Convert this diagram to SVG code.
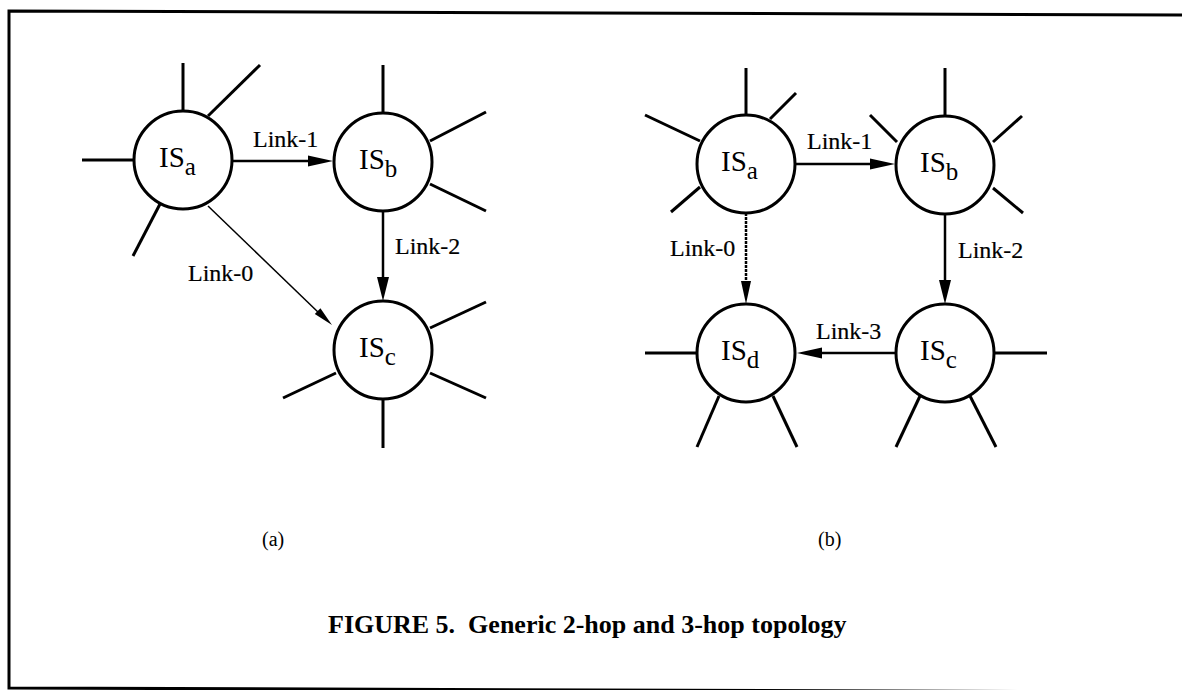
<svg xmlns="http://www.w3.org/2000/svg" width="1182" height="690" viewBox="0 0 1182 690">
<style>
.node circle{fill:#fff;stroke:#000;stroke-width:3}
.node line{stroke:#000;stroke-width:3}
.is{font-family:"Liberation Serif","Times New Roman",serif;font-size:29px;fill:#000}
.sub{font-size:25px}
.lbl{font-family:"Liberation Serif","Times New Roman",serif;font-size:24px;fill:#000;stroke:#000;stroke-width:0.2}
.paren{font-family:"Liberation Serif","Times New Roman",serif;font-size:20px;fill:#000}
.cap{font-family:"Liberation Serif","Times New Roman",serif;font-size:26px;font-weight:bold;fill:#000}
.edge{stroke:#000;stroke-width:2.5;fill:none}
.thin{stroke:#000;stroke-width:1.5;fill:none}
.dot{stroke:#000;stroke-width:2.5;stroke-dasharray:3 1;fill:none}
.head{fill:#000}
</style>
<rect width="1182" height="690" fill="#fff"/>
<polyline points="1182,15 9,11 9,688 1182,692" fill="none" stroke="#000" stroke-width="3"/>

<g id="connectors">
  <line class="edge" x1="232" y1="161" x2="310" y2="161"/>
  <polygon class="head" points="333,161 308,155.5 308,166.5"/>
  <line class="edge" x1="383" y1="211" x2="383" y2="280"/>
  <polygon class="head" points="383,301 377,277 389,277"/>
  <line class="thin" x1="208" y1="206" x2="320" y2="314"/>
  <polygon class="head" points="332,325 314.8,314 320.4,308.2"/>
  <line class="edge" x1="795" y1="164" x2="872" y2="164"/>
  <polygon class="head" points="895,164 870,158.5 870,169.5"/>
  <line class="edge" x1="945" y1="214" x2="945" y2="282"/>
  <polygon class="head" points="945,304 939,280 951,280"/>
  <line class="dot" x1="746" y1="213" x2="746" y2="285"/>
  <polygon class="head" points="746,304 741,281 751,281"/>
  <line class="edge" x1="896" y1="353" x2="820" y2="353"/>
  <polygon class="head" points="797,353 822,347.5 822,358.5"/>
  <text class="lbl" x="253" y="147">Link-1</text>
  <text class="lbl" x="395" y="254">Link-2</text>
  <text class="lbl" x="188" y="281">Link-0</text>
  <text class="lbl" x="807" y="149">Link-1</text>
  <text class="lbl" x="958" y="258">Link-2</text>
  <text class="lbl" x="670" y="256">Link-0</text>
  <text class="lbl" x="816" y="339">Link-3</text>
</g>

<g id="a-ISa" class="node">
  <line x1="183" y1="113" x2="183" y2="63"/>
  <line x1="208" y1="116" x2="260" y2="65"/>
  <line x1="134" y1="160" x2="82" y2="160"/>
  <line x1="160" y1="204" x2="133" y2="256"/>
  <circle cx="183" cy="160" r="49"/>
  <text class="is" x="159" y="167">IS<tspan class="sub" dy="8">a</tspan></text>
</g>
<g id="a-ISb" class="node">
  <line x1="383" y1="113" x2="383" y2="65"/>
  <line x1="430" y1="141" x2="486" y2="112"/>
  <line x1="430" y1="184" x2="486" y2="211"/>
  <circle cx="383" cy="162" r="49"/>
  <text class="is" x="359" y="169">IS<tspan class="sub" dy="8">b</tspan></text>
</g>
<g id="a-ISc" class="node">
  <line x1="430" y1="328" x2="486" y2="302"/>
  <line x1="430" y1="373" x2="486" y2="398"/>
  <line x1="336" y1="373" x2="283" y2="398"/>
  <line x1="383" y1="399" x2="383" y2="448"/>
  <circle cx="383" cy="350" r="49"/>
  <text class="is" x="359" y="357">IS<tspan class="sub" dy="8">c</tspan></text>
</g>

<g id="b-ISa" class="node">
  <line x1="746" y1="115" x2="746" y2="68"/>
  <line x1="770" y1="119" x2="796" y2="93"/>
  <line x1="700" y1="141" x2="645" y2="115"/>
  <line x1="700" y1="187" x2="671" y2="212"/>
  <circle cx="746" cy="164" r="49"/>
  <text class="is" x="721" y="171">IS<tspan class="sub" dy="8">a</tspan></text>
</g>
<g id="b-ISb" class="node">
  <line x1="945" y1="116" x2="945" y2="68"/>
  <line x1="897" y1="142" x2="870" y2="115"/>
  <line x1="993" y1="142" x2="1022" y2="116"/>
  <line x1="993" y1="188" x2="1023" y2="213"/>
  <circle cx="945" cy="165" r="49"/>
  <text class="is" x="920" y="172">IS<tspan class="sub" dy="8">b</tspan></text>
</g>
<g id="b-ISd" class="node">
  <line x1="697" y1="353" x2="645" y2="353"/>
  <line x1="719" y1="396" x2="697" y2="447"/>
  <line x1="773" y1="396" x2="797" y2="447"/>
  <circle cx="746" cy="353" r="49"/>
  <text class="is" x="721" y="360">IS<tspan class="sub" dy="8">d</tspan></text>
</g>
<g id="b-ISc" class="node">
  <line x1="994" y1="353" x2="1047" y2="353"/>
  <line x1="920" y1="396" x2="896" y2="447"/>
  <line x1="970" y1="396" x2="996" y2="447"/>
  <circle cx="945" cy="353" r="49"/>
  <text class="is" x="920" y="360">IS<tspan class="sub" dy="8">c</tspan></text>
</g>

<text class="paren" x="262" y="546">(a)</text>
<text class="paren" x="818" y="546">(b)</text>
<text class="cap" x="328" y="633" xml:space="preserve">FIGURE 5.  Generic 2-hop and 3-hop topology</text>
</svg>
